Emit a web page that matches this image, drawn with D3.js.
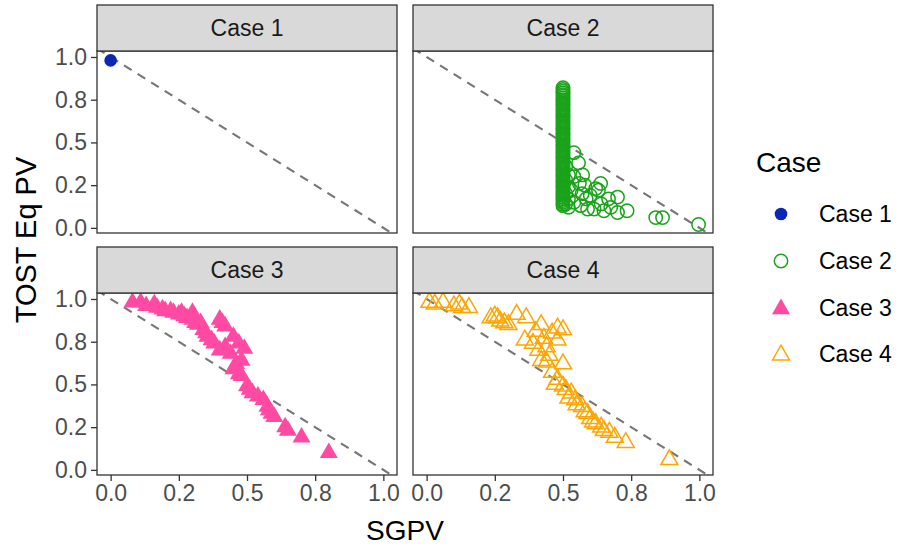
<!DOCTYPE html>
<html><head><meta charset="utf-8">
<script src="https://cdn.jsdelivr.net/npm/d3@7"></script>
<style>body{margin:0;background:#fff}svg{display:block}text{font-family:"Liberation Sans",Arial,sans-serif}</style>
</head><body><svg id="c" width="898" height="546"></svg>
<script>
const categories = ["Case 1","Case 2","Case 3","Case 4"];
const colors = ["#0A28B4","#1AA31A","#FF4AA3","#FFA500"];
const tickValues = [0, 0.25, 0.5, 0.75, 1.0];
const tickLabels = ["0.0","0.2","0.5","0.8","1.0"];
const xTitle = "SGPV", yTitle = "TOST Eq PV", legendTitle = "Case";

const case1 = [[0.0,0.98]];
// Case 2: dense column of points at SGPV = 0.5
const case2ColumnY = [
 0.82,0.81,0.80,0.79,0.78,0.77,0.76,0.75,0.74,0.73,0.72,0.71,0.70,0.69,0.68,0.67,0.66,
 0.65,0.64,0.63,0.62,0.61,0.60,0.59,0.58,0.57,0.56,0.55,0.54,0.53,0.52,0.51,0.50,0.49,0.48,0.47,0.46,
 0.45,0.44,0.43,0.42,0.41,0.40,0.39,0.38,0.37,0.36,0.35,0.34,0.33,0.32,0.31,0.30,0.29,0.28,0.27,0.26,
 0.25,0.24,0.23,0.22,0.21,0.20,0.19,0.18,0.17,0.16,0.15,0.14,0.13
];
const case2Scatter = [
 [0.51,0.36],[0.51,0.28],[0.51,0.2],[0.51,0.14],[0.52,0.31],[0.52,0.24],[0.52,0.17],[0.52,0.12],
 [0.54,0.44],[0.54,0.3],[0.54,0.15],[0.53,0.22],[0.557,0.38],[0.565,0.13],[0.572,0.31],[0.56,0.26],[0.57,0.2],
 [0.58,0.25],[0.585,0.17],[0.59,0.11],[0.60,0.19],[0.614,0.11],[0.62,0.23],[0.63,0.22],[0.638,0.26],
 [0.64,0.14],[0.65,0.1],[0.667,0.17],[0.675,0.12],[0.70,0.18],[0.70,0.09],[0.735,0.1],
 [0.84,0.06],[0.865,0.06],[0.997,0.02]
];
const case2 = case2ColumnY.map(v => [0.5, v]).concat(case2Scatter);
const case3 = [
 [0.08,0.98],[0.11,0.98],[0.13,0.96],[0.16,0.97],[0.17,0.95],[0.19,0.94],[0.2,0.93],[0.22,0.93],[0.23,0.92],
 [0.25,0.91],[0.26,0.92],[0.27,0.9],[0.28,0.89],[0.30,0.92],[0.30,0.88],[0.31,0.86],[0.32,0.85],[0.33,0.86],
 [0.34,0.82],[0.35,0.8],[0.355,0.78],[0.37,0.76],[0.38,0.74],[0.40,0.88],[0.41,0.86],[0.42,0.84],[0.40,0.7],
 [0.42,0.72],[0.44,0.68],[0.45,0.78],[0.47,0.74],[0.49,0.71],[0.48,0.64],[0.46,0.62],[0.45,0.59],[0.47,0.56],
 [0.48,0.55],[0.50,0.49],[0.51,0.47],[0.52,0.45],[0.54,0.43],[0.56,0.41],[0.575,0.37],[0.58,0.35],[0.59,0.33],
 [0.60,0.31],[0.64,0.25],[0.65,0.23],[0.70,0.19],[0.80,0.10]
];
const case4 = [
 [0.01,0.98],[0.03,0.97],[0.06,0.98],[0.10,0.96],[0.12,0.97],[0.13,0.95],[0.155,0.95],
 [0.235,0.89],[0.25,0.9],[0.26,0.89],[0.27,0.87],[0.285,0.86],[0.30,0.85],[0.33,0.91],[0.365,0.89],
 [0.42,0.85],[0.40,0.81],[0.48,0.83],[0.50,0.82],[0.36,0.76],[0.39,0.74],[0.41,0.7],[0.44,0.72],[0.48,0.76],
 [0.46,0.8],[0.43,0.77],[0.42,0.64],[0.44,0.63],[0.50,0.62],[0.45,0.67],[0.46,0.57],[0.48,0.53],[0.47,0.5],
 [0.50,0.49],[0.51,0.47],[0.53,0.45],[0.52,0.42],[0.545,0.41],[0.55,0.38],[0.57,0.37],[0.58,0.34],[0.59,0.33],
 [0.60,0.3],[0.61,0.28],[0.62,0.27],[0.64,0.25],[0.65,0.23],[0.67,0.22],[0.69,0.19],[0.73,0.16],[0.89,0.06]
];
const data = [case1, case2, case3, case4];

const svg = d3.select("#c");
const colX = [97, 413], panelW = 300, stripH = 46, panelH = 182;
const rowTop = [5, 247];
const shapes = [
 {type:d3.symbolCircle, size:125, fill:true},
 {type:d3.symbolCircle, size:140, fill:false},
 {type:d3.symbolTriangle, size:140, fill:true},
 {type:d3.symbolTriangle, size:125, fill:false}
];
function drawSym(g, i, x, y){
  const s = shapes[i];
  g.append("path").attr("d", d3.symbol().type(s.type).size(s.size)())
   .attr("transform", `translate(${x},${y})`)
   .attr("fill", s.fill ? colors[i] : "none")
   .attr("stroke", s.fill ? "none" : colors[i])
   .attr("stroke-width", 1.5);
}
const fontAxis = "Liberation Sans, Arial, sans-serif";

categories.forEach((cat, i) => {
  const c = i % 2, r = Math.floor(i / 2);
  const x0 = colX[c], st = rowTop[r], pt = st + stripH, pb = pt + panelH;
  const x = d3.scaleLinear().domain([-0.05, 1.05]).range([x0, x0 + panelW]);
  const y = d3.scaleLinear().domain([-0.03, 1.035]).range([pb, pt]);
  const g = svg.append("g");
  g.append("rect").attr("x", x0).attr("y", pt).attr("width", panelW).attr("height", panelH).attr("fill", "#fff");
  const clipId = "clip" + i;
  svg.append("clipPath").attr("id", clipId).append("rect").attr("x", x0).attr("y", pt).attr("width", panelW).attr("height", panelH);
  const inner = g.append("g").attr("clip-path", `url(#${clipId})`);
  inner.append("line").attr("x1", x(-0.1)).attr("y1", y(1.1)).attr("x2", x(1.1)).attr("y2", y(-0.1))
   .attr("stroke", "#777").attr("stroke-width", 2.2).attr("stroke-dasharray", "9,7");
  data[i].forEach(d => drawSym(inner, i, x(d[0]), y(d[1])));
  g.append("rect").attr("x", x0).attr("y", pt).attr("width", panelW).attr("height", panelH)
   .attr("fill", "none").attr("stroke", "#333").attr("stroke-width", 1.3);
  g.append("rect").attr("x", x0).attr("y", st).attr("width", panelW).attr("height", stripH)
   .attr("fill", "#d9d9d9").attr("stroke", "#333").attr("stroke-width", 1.3);
  g.append("text").attr("x", x0 + panelW / 2).attr("y", st + stripH / 2 + 8).attr("text-anchor", "middle")
   .attr("font-size", 23).attr("fill", "#1a1a1a").text(cat);
  if (c === 0) {
    const ay = g.append("g").attr("transform", `translate(${x0},0)`)
      .call(d3.axisLeft(y).tickValues(tickValues).tickFormat((d, k) => tickLabels[k]).tickSize(6).tickPadding(4));
    ay.select(".domain").remove();
    ay.selectAll("line").attr("stroke", "#333").attr("stroke-width", 1.3);
    ay.selectAll("text").attr("font-size", 23).attr("fill", "#4d4d4d").attr("font-family", fontAxis);
  }
  if (r === 1) {
    const ax = g.append("g").attr("transform", `translate(0,${pb})`)
      .call(d3.axisBottom(x).tickValues(tickValues).tickFormat((d, k) => tickLabels[k]).tickSize(6).tickPadding(4));
    ax.select(".domain").remove();
    ax.selectAll("line").attr("stroke", "#333").attr("stroke-width", 1.3);
    ax.selectAll("text").attr("font-size", 23).attr("fill", "#4d4d4d").attr("font-family", fontAxis);
  }
});

svg.append("text").attr("x", (colX[0] + colX[1] + panelW) / 2).attr("y", 540).attr("text-anchor", "middle")
  .attr("font-size", 28).attr("fill", "#000").text(xTitle);
svg.append("text").attr("transform", `translate(36,${(rowTop[0] + rowTop[1] + stripH + panelH) / 2}) rotate(-90)`)
  .attr("text-anchor", "middle").attr("font-size", 29).attr("fill", "#000").text(yTitle);

svg.append("text").attr("x", 756).attr("y", 172).attr("font-size", 28).attr("fill", "#000").text(legendTitle);
const lg = svg.append("g");
const legendY = [214, 261, 308, 354];
categories.forEach((cat, i) => {
  drawSym(lg, i, 781, legendY[i] + (i >= 2 ? 1 : 0));
  lg.append("text").attr("x", 819).attr("y", legendY[i] + 8).attr("font-size", 23).attr("fill", "#000").text(cat);
});
</script></body></html>
